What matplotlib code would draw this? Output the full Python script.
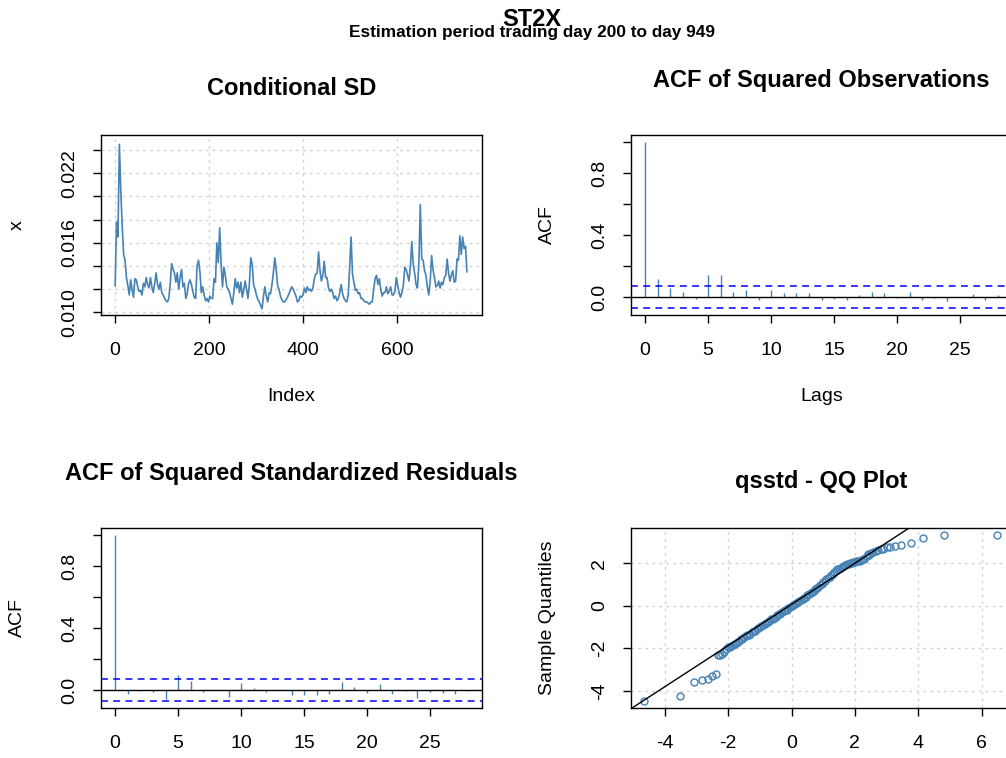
import numpy as np
import matplotlib
matplotlib.use("Agg")
import matplotlib.pyplot as plt

plt.rcParams['font.family'] = ['Liberation Sans', 'DejaVu Sans']
plt.rcParams['axes.unicode_minus'] = False

# conditional SD, read every 3rd trading day (index 1, 4, 7, ...)
cond_sd = [
    0.0123, 0.0178, 0.0165, 0.0245, 0.0205, 0.0175, 0.0150, 0.0145, 0.0130, 0.0123,
    0.0115, 0.0128, 0.0120, 0.0113, 0.0129, 0.0128, 0.0122, 0.0118, 0.0119, 0.0115,
    0.0125, 0.0122, 0.0130, 0.0124, 0.0121, 0.0130, 0.0122, 0.0117, 0.0125, 0.0134,
    0.0124, 0.0120, 0.0126, 0.0117, 0.0115, 0.0112, 0.0110, 0.0109, 0.0112, 0.0125,
    0.0142, 0.0137, 0.0134, 0.0126, 0.0134, 0.0120, 0.0130, 0.0137, 0.0122, 0.0125,
    0.0112, 0.0116, 0.0125, 0.0128, 0.0124, 0.0118, 0.0113, 0.0112, 0.0140, 0.0145,
    0.0135,
    0.0117, 0.0122, 0.0115, 0.0110, 0.0112, 0.0109, 0.0114, 0.0112, 0.0112, 0.0129,
    0.0126, 0.0160, 0.0143, 0.0173, 0.0142, 0.0122, 0.0139, 0.0132, 0.0122, 0.0120,
    0.0117, 0.0112, 0.0107, 0.0117, 0.0129, 0.0121, 0.0126, 0.0117, 0.0126, 0.0113,
    0.0119, 0.0127, 0.0120, 0.0112, 0.0124, 0.0147, 0.0142, 0.0124, 0.0120, 0.0115,
    0.0111, 0.0109, 0.0106, 0.0103, 0.0114, 0.0122, 0.0114, 0.0109, 0.0117, 0.0116,
    0.0124, 0.0134, 0.0147, 0.0137, 0.0123, 0.0120, 0.0114, 0.0111, 0.0109, 0.0109,
    0.0111, 0.0113, 0.0116, 0.0119, 0.0122, 0.0120, 0.0117, 0.0114,
    0.0109, 0.0110, 0.0114, 0.0113, 0.0115, 0.0121, 0.0117, 0.0122, 0.0119, 0.0120,
    0.0118, 0.0121, 0.0129, 0.0133, 0.0134, 0.0152, 0.0136, 0.0127, 0.0132, 0.0144,
    0.0130, 0.0130, 0.0121, 0.0118, 0.0120, 0.0117, 0.0112, 0.0114, 0.0110, 0.0112,
    0.0117, 0.0124, 0.0116, 0.0112, 0.0110, 0.0109, 0.0115, 0.0139, 0.0165, 0.0133,
    0.0126, 0.0119, 0.0120, 0.0116, 0.0117, 0.0112, 0.0112, 0.0110, 0.0109, 0.0109,
    0.0108, 0.0107, 0.0109, 0.0109, 0.0120, 0.0129, 0.0132, 0.0124, 0.0129, 0.0120,
    0.0114, 0.0117, 0.0117, 0.0122, 0.0116, 0.0118, 0.0122,
    0.0115, 0.0115, 0.0118, 0.0130, 0.0123, 0.0117, 0.0113, 0.0117, 0.0123, 0.0139,
    0.0137, 0.0132, 0.0127, 0.0140, 0.0161, 0.0141, 0.0134, 0.0124, 0.0121, 0.0143,
    0.0193, 0.0146, 0.0145, 0.0136, 0.0132, 0.0122, 0.0115, 0.0127, 0.0149, 0.0137,
    0.0130, 0.0122, 0.0123, 0.0127, 0.0121, 0.0126, 0.0124, 0.0130, 0.0132, 0.0146,
    0.0134, 0.0127, 0.0132, 0.0136, 0.0126, 0.0127, 0.0146, 0.0145, 0.0166, 0.0150,
    0.0165, 0.0155, 0.0157, 0.0135,
]
sd_step = 3

# ACF values, lags 0..28
acf_sq_obs = [1.0, 0.115, 0.060, 0.036, -0.015, 0.143, 0.145, 0.032, 0.045, -0.021,
              0.047, 0.028, 0.024, 0.024, -0.017, -0.011, -0.019, 0.017, 0.034, 0.024,
              -0.004, 0.036, -0.021, -0.004, -0.023, 0.002, 0.019, -0.019, 0.015]
acf_sq_res = [1.0, -0.024, -0.004, -0.010, -0.054, 0.098, 0.061, -0.015, 0.004, -0.041,
              0.043, 0.011, -0.015, 0.002, -0.030, -0.030, -0.030, -0.022, 0.050, 0.022,
              -0.017, 0.039, -0.024, -0.004, -0.050, -0.013, -0.017, -0.028, -0.003]
conf_band = 0.0716

# QQ plot points (theoretical, sample): tails and the dense middle band
qq_theor = [-4.66, -3.53, -3.09, -2.83, -2.64, -2.52, -2.39, -2.32, -2.26, -2.19, -2.12, -2.06,
            -2.0, -1.9, -1.8, -1.7, -1.6, -1.5, -1.4, -1.3, -1.2, -1.1, -1.0, -0.9, -0.8,
            -0.7, -0.6, -0.5, -0.4, -0.3, -0.2, -0.1, 0.0, 0.1, 0.2, 0.3, 0.4, 0.5, 0.6,
            0.7, 0.8, 0.9, 1.0, 1.1, 1.2, 1.3, 1.4, 1.5, 1.6, 1.7, 1.8, 1.9, 2.0,
            2.1, 2.2, 2.3, 2.37, 2.42, 2.5, 2.58, 2.66, 2.74, 2.82, 2.89, 3.0, 3.1, 3.26,
            3.47, 3.76, 4.15, 4.80, 6.48]
qq_sample = [-4.48, -4.24, -3.59, -3.48, -3.46, -3.30, -3.19, -2.33, -2.32, -2.27, -2.15, -2.05,
             -1.95, -1.88, -1.80, -1.70, -1.58, -1.48, -1.39, -1.30, -1.20, -1.09, -0.99, -0.89, -0.79,
             -0.70, -0.60, -0.50, -0.40, -0.31, -0.21, -0.11, -0.02, 0.08, 0.18, 0.28, 0.38, 0.49, 0.60,
             0.71, 0.83, 0.96, 1.10, 1.24, 1.38, 1.52, 1.64, 1.75, 1.84, 1.92, 1.98, 2.03, 2.08,
             2.12, 2.16, 2.22, 2.35, 2.45, 2.47, 2.53, 2.57, 2.61, 2.65, 2.69, 2.75, 2.79, 2.82,
             2.85, 2.94, 3.17, 3.35, 3.35]
qq_band_theor = [-1.95, -1.85, -1.75, -1.65, -1.55, -1.45, -1.35, -1.25, -1.15, -1.05,
                 -0.95, -0.85, -0.75, -0.65, -0.55, -0.45, -0.35, -0.25, -0.15, -0.05,
                 0.05, 0.15, 0.25, 0.35, 0.45, 0.55, 0.65, 0.75, 0.85, 0.95,
                 1.05, 1.15, 1.25, 1.35, 1.45, 1.55, 1.65, 1.75, 1.85, 1.95,
                 2.05, 2.15, 2.25, 2.45]
qq_band_sample = [-1.94, -1.86, -1.73, -1.66, -1.55, -1.42, -1.36, -1.23, -1.16, -1.03,
                  -0.95, -0.83, -0.76, -0.63, -0.56, -0.44, -0.37, -0.24, -0.18, -0.05,
                  0.03, 0.14, 0.22, 0.34, 0.43, 0.55, 0.65, 0.78, 0.88, 1.03,
                  1.18, 1.30, 1.46, 1.58, 1.71, 1.80, 1.89, 1.96, 2.01, 2.06,
                  2.10, 2.13, 2.19, 2.40]
qq_intercept = 0.07
qq_slope = 0.967

BLUE = '#4682B4'
GRID = dict(color='#D3D3D3', linestyle=(0, (2, 3)), linewidth=1.0)
W, H = 1006, 758


def r_style(ax):
    for s in ax.spines.values():
        s.set_linewidth(1.0)
        s.set_color('black')
    ax.tick_params(direction='out', length=5.5, width=1.0, labelsize=14, color='black')
    ax.tick_params(axis='x', pad=14)
    ax.tick_params(axis='y', pad=11, labelrotation=90)
    for lab in ax.get_yticklabels():
        lab.set_va('center')


def px_axes(fig, left, top, width=381, height=180):
    return fig.add_axes([left / W, 1 - (top + height) / H, width / W, height / H])


def labels(ax, title, title_y, xlabel=None, ylabel=None):
    ax.text(0.5, title_y, title, transform=ax.transAxes, ha='center', va='center',
            fontsize=17, fontweight='bold')
    if xlabel:
        ax.set_xlabel(xlabel, fontsize=14)
        ax.xaxis.set_label_coords(0.5, -0.455)
        ax.xaxis.label.set_va('center')
    if ylabel:
        ax.set_ylabel(ylabel, fontsize=14)
        ax.yaxis.set_label_coords(-0.22, 0.5)
        ax.yaxis.label.set_va('center')


def acf_panel(ax, vals):
    lags = np.arange(len(vals))
    ax.vlines(lags, 0, vals, color=BLUE, linewidth=1.0)
    ax.axhline(0, color='black', linewidth=1.0)
    for c in (conf_band, -conf_band):
        ax.axhline(c, color='#0000FF', linewidth=1.1, linestyle=(0, (4.5, 3.5)))
    ax.set_xlim(-1.12, 29.12)
    ax.set_ylim(-0.115, 1.045)
    ax.set_xticks([0, 5, 10, 15, 20, 25])
    ax.set_yticks([0.0, 0.2, 0.4, 0.6, 0.8, 1.0])
    ax.set_yticklabels(['0.0', '', '0.4', '', '0.8', ''])
    r_style(ax)


fig = plt.figure(figsize=(W / 100, H / 100), dpi=100)

# Conditional SD
ax1 = px_axes(fig, 101, 135)
idx = 1 + sd_step * np.arange(len(cond_sd))
ax1.set_xticks([0, 200, 400, 600])
ax1.set_yticks([0.010, 0.012, 0.014, 0.016, 0.018, 0.020, 0.022, 0.024])
ax1.set_yticklabels(['0.010', '', '', '0.016', '', '', '0.022', ''])
for t in ax1.get_xticks():
    ax1.axvline(t, zorder=0, **GRID)
for t in ax1.get_yticks():
    ax1.axhline(t, zorder=0, **GRID)
ax1.plot(idx, cond_sd, color=BLUE, linewidth=1.2)
ax1.set_xlim(-29, 780)
ax1.set_ylim(0.00977, 0.0253)
r_style(ax1)
labels(ax1, 'Conditional SD', 1.256, 'Index', 'x')

# ACF of squared observations
ax2 = px_axes(fig, 631, 135)
acf_panel(ax2, acf_sq_obs)
labels(ax2, 'ACF of Squared Observations', 1.30, 'Lags', 'ACF')

# ACF of squared standardized residuals
ax3 = px_axes(fig, 101, 528)
acf_panel(ax3, acf_sq_res)
labels(ax3, 'ACF of Squared Standardized Residuals', 1.30, None, 'ACF')

# QQ plot
ax4 = px_axes(fig, 631, 528)
ax4.set_xticks([-4, -2, 0, 2, 4, 6])
ax4.set_yticks([-4, -2, 0, 2])
for t in ax4.get_xticks():
    ax4.axvline(t, zorder=0, **GRID)
for t in ax4.get_yticks():
    ax4.axhline(t, zorder=0, **GRID)
qx = qq_theor + qq_band_theor
qy = qq_sample + qq_band_sample
ax4.plot(qx, qy, linestyle='none', marker='o', markersize=5,
         markerfacecolor='none', markeredgecolor=BLUE, markeredgewidth=1.0)
ax4.axline((0, qq_intercept), slope=qq_slope, color='black', linewidth=1.0)
ax4.set_xlim(-5.07, 6.96)
ax4.set_ylim(-4.8, 3.66)
r_style(ax4)
labels(ax4, 'qsstd - QQ Plot', 1.256, None, 'Sample Quantiles')

fig.text(532 / W, 1 - 19 / H, 'ST2X', ha='center', va='center', fontsize=17, fontweight='bold')
fig.text(532 / W, 1 - 32 / H, 'Estimation period trading day 200 to day 949',
         ha='center', va='center', fontsize=12.4, fontweight='bold')

fig.savefig('out.png', dpi=100)
